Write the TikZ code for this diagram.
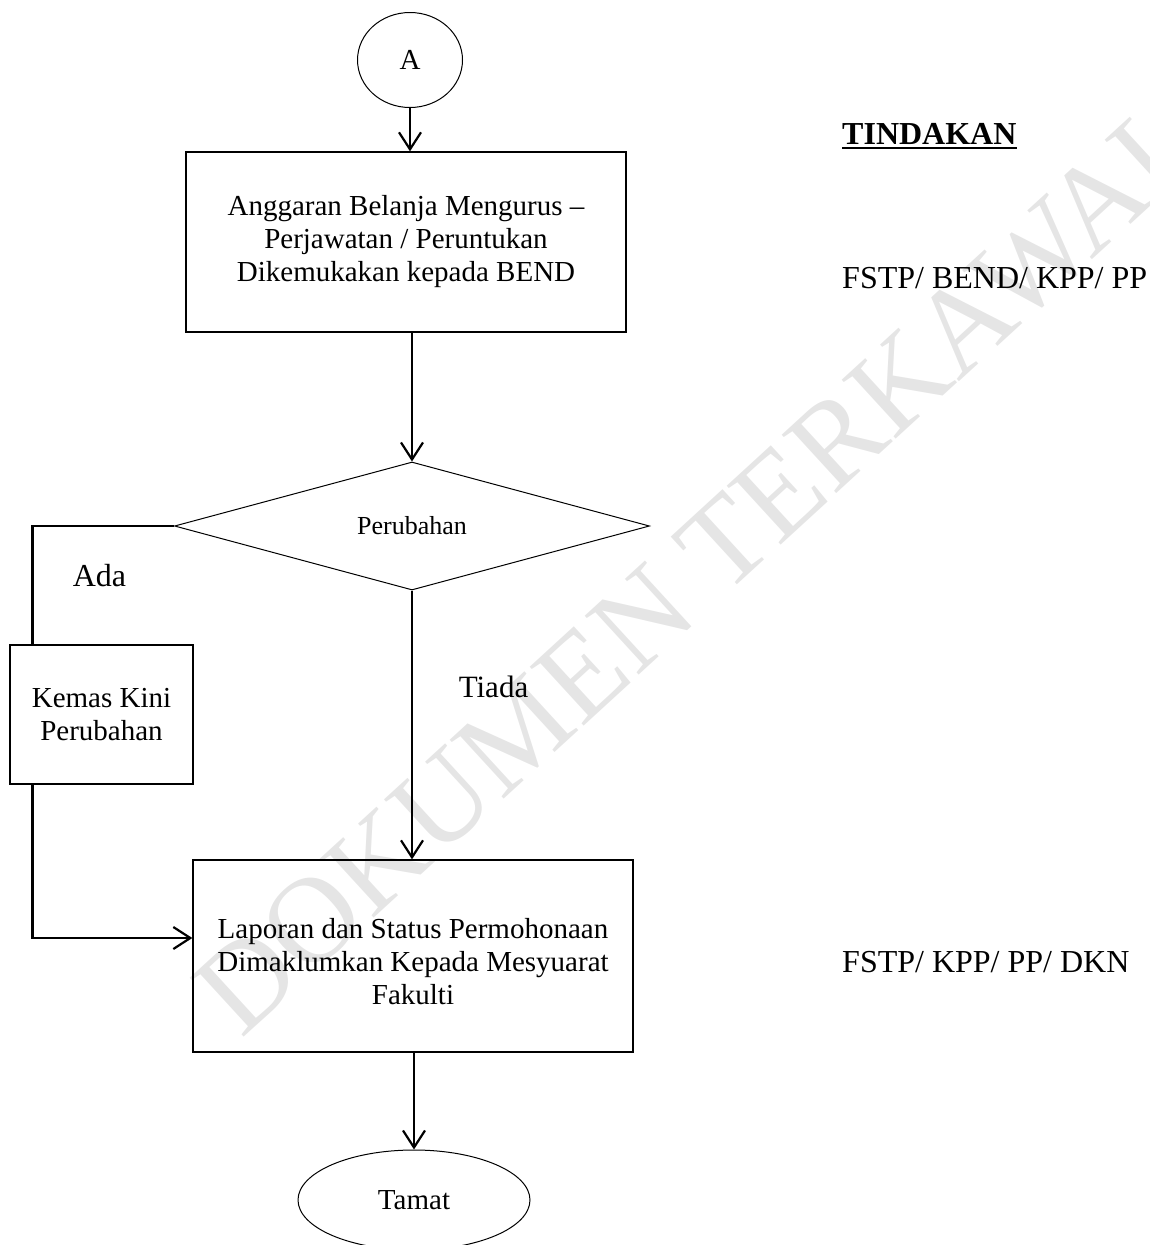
\documentclass[tikz,border=0pt]{standalone}
\usepackage{fontspec}
\setmainfont{Liberation Serif}
\usetikzlibrary{shapes.geometric,arrows.meta}
\begin{document}
\begin{tikzpicture}[x=1pt,y=-1pt,
  txt/.style={font=\fontsize{29}{33}\selectfont},
  rtxt/.style={font=\fontsize{32}{36}\selectfont},
  box/.style={draw, line width=1.3pt, rectangle, inner sep=0pt, align=center, txt},
  term/.style={draw, ellipse, inner sep=0pt, line width=1pt, txt},
  conn/.style={line width=2.6pt, -{Straight Barb[length=17pt,width=22pt,line width=2.2pt]}},
  plainline/.style={line width=2.6pt},
  lbl/.style={inner sep=0pt, anchor=base west, rtxt}
]
\useasboundingbox (0,0) rectangle (1150,1245);
% watermark
\node[rotate=42.5, text=black!10, font=\fontsize{122}{122}\selectfont, inner sep=0pt] (wm) at (700,566) {DOKUMEN TERKAWAL};

% shapes
\node[term, minimum width=105pt, minimum height=95pt] (A) at (410,60) {A};
\node[box, minimum width=440pt, minimum height=180pt] (b1) at (406,242)
  {Anggaran Belanja Mengurus –\\ Perjawatan / Peruntukan\\ Dikemukakan kepada BEND};
\node[draw, diamond, minimum width=475pt, minimum height=128pt, inner sep=0pt, line width=1pt,
  font=\fontsize{26}{30}\selectfont] (dia) at (412,526) {Perubahan};
\node[box, minimum width=183pt, minimum height=139pt] (kem) at (101.5,714.5) {Kemas Kini\\ Perubahan};
\node[box, minimum width=440pt, minimum height=192pt] (lap) at (413,956) {};
\node[align=center, inner sep=0pt, txt] (laptxt) at ([yshift=-6pt]lap.center)
  {Laporan dan Status Permohonaan\\ Dimaklumkan Kepada Mesyuarat\\ Fakulti};
\node[term, minimum width=232pt, minimum height=100pt] (tam) at (414,1200) {Tamat};

% connectors
\draw[conn] (A.south) -- (A.south |- b1.north);
\draw[conn] (dia.north |- b1.south) -- (dia.north);
\draw[conn] (dia.south) -- (dia.south |- lap.north);
\draw[conn] (tam.north |- lap.south) -- (tam.north);
\coordinate (lx) at ([xshift=23pt]kem.north west);
\coordinate (lxb) at ([xshift=23pt]kem.south west);
\draw[plainline] (dia.west) -| (lx);
\draw[conn] (lxb) |- ([yshift=18pt]lap.west);

% labels
\node[inner sep=0pt, anchor=base, font=\fontsize{32}{36}\selectfont] (ada) at (99.5,586) {Ada};
\node[inner sep=0pt, anchor=base, font=\fontsize{31}{36}\selectfont] (tiada) at (493.5,697) {Tiada};

\node[lbl, font=\bfseries\fontsize{32}{36}\selectfont] (tind) at (842,144) {TINDAKAN};
\draw[line width=2.8pt] ([yshift=-4pt]tind.base west) -- ([yshift=-4pt]tind.base east);
\node[lbl] (f1) at (842,288) {FSTP/ BEND/ KPP/ PP};
\node[lbl] (f2) at (842,972) {FSTP/ KPP/ PP/ DKN};
\end{tikzpicture}
\end{document}
